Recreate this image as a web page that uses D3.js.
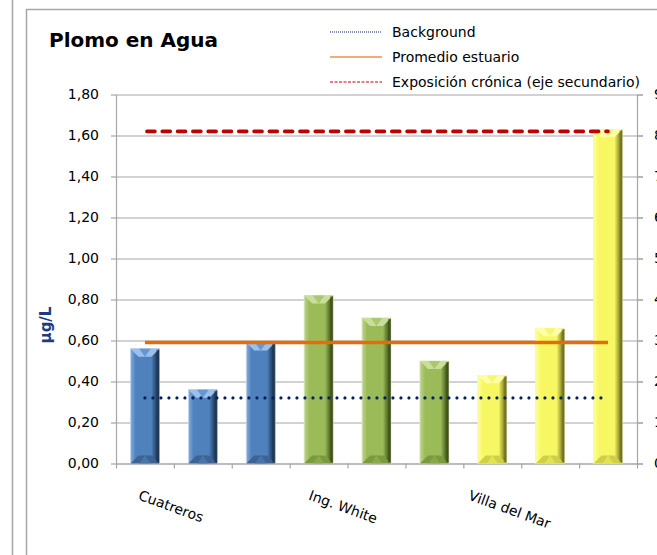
<!DOCTYPE html>
<html>
<head>
<meta charset="utf-8">
<script src="https://cdn.jsdelivr.net/npm/d3@7"></script>
<style>
  html, body { margin: 0; padding: 0; background: #fff; }
  svg { display: block; font-family: "DejaVu Sans", Verdana, sans-serif; }
</style>
</head>
<body>
<svg id="chart" width="657" height="555"></svg>
<script>
// Lead concentration in water by sampling station (µg/L)
const categories = ["", "Cuatreros", "", "", "Ing. White", "", "", "Villa del Mar", ""];
const leadValues = [0.56, 0.36, 0.59, 0.82, 0.71, 0.50, 0.43, 0.66, 1.63];
const siteGroup  = ["blue", "blue", "blue", "green", "green", "green", "yellow", "yellow", "yellow"];

// Reference levels
const backgroundLevel = 0.32;   // primary axis
const estuaryMean     = 0.59;   // primary axis
const chronicExposure = 8.1;    // secondary axis

const leftTicks  = [0, 0.2, 0.4, 0.6, 0.8, 1.0, 1.2, 1.4, 1.6, 1.8];
const rightTicks = [0, 1, 2, 3, 4, 5, 6, 7, 8, 9];

const legendItems = ["Background", "Promedio estuario", "Exposición crónica (eje secundario)"];

const svg = d3.select("#chart");
const plot = { left: 116, right: 637, top: 94.5, bottom: 463.5 };

const locale = d3.formatLocale({ decimal: ",", thousands: ".", grouping: [3], currency: ["", ""] });
const fmt2 = locale.format(".2f");

const x = d3.scaleBand()
  .domain(d3.range(categories.length))
  .range([plot.left, plot.right])
  .paddingInner(0.5)
  .paddingOuter(0.25);
const xEdges = d3.scaleLinear().domain([0, categories.length]).range([plot.left, plot.right]);
const y  = d3.scaleLinear().domain([0, 1.8]).range([plot.bottom, plot.top]);
const y2 = d3.scaleLinear().domain([0, 9]).range([plot.bottom, plot.top]);

const gridColor = "#a6a6a6";

// Frames
svg.append("line").attr("x1", 12.5).attr("x2", 12.5).attr("y1", 0).attr("y2", 555)
  .attr("stroke", gridColor).attr("stroke-width", 1.5);
svg.append("path").attr("d", "M26.5,555 V9.5 H657")
  .attr("fill", "none").attr("stroke", gridColor).attr("stroke-width", 1.5);

// Title
svg.append("text").attr("x", 49).attr("y", 47)
  .attr("font-size", 20).attr("font-weight", "bold").attr("fill", "#000")
  .text("Plomo en Agua");

// Gridlines
const grid = svg.append("g").attr("transform", `translate(${plot.left},0)`)
  .call(d3.axisRight(y).tickValues(leftTicks).tickSize(plot.right - plot.left + 6).tickFormat(""));
grid.select(".domain").remove();
grid.selectAll("line").attr("stroke", gridColor).attr("stroke-width", 1.2);

// Left axis
const axL = svg.append("g").attr("transform", `translate(${plot.left},0)`)
  .call(d3.axisLeft(y).tickValues(leftTicks).tickSize(5).tickSizeOuter(0).tickPadding(12).tickFormat(fmt2));
axL.select(".domain").attr("stroke", gridColor).attr("stroke-width", 1.2);
axL.selectAll("line").attr("stroke", gridColor).attr("stroke-width", 1.2);
axL.selectAll("text").attr("font-size", 14).attr("fill", "#000")
  .attr("font-family", "DejaVu Sans, sans-serif");

// Right (secondary) axis
const axR = svg.append("g").attr("transform", `translate(${plot.right},0)`)
  .call(d3.axisRight(y2).tickValues(rightTicks).tickSize(6).tickSizeOuter(0).tickPadding(11).tickFormat(d3.format("d")));
axR.select(".domain").attr("stroke", gridColor).attr("stroke-width", 1.2);
axR.selectAll("line").attr("stroke", gridColor).attr("stroke-width", 1.2);
axR.selectAll("text").attr("font-size", 14).attr("fill", "#000")
  .attr("font-family", "DejaVu Sans, sans-serif");

// Bottom axis (category boundary ticks)
const axB = svg.append("g").attr("transform", `translate(0,${plot.bottom})`)
  .call(d3.axisBottom(xEdges).tickValues(d3.range(categories.length + 1)).tickSize(5).tickSizeOuter(0).tickFormat(""));
axB.select(".domain").attr("stroke", gridColor).attr("stroke-width", 1.2);
axB.selectAll("line").attr("stroke", gridColor).attr("stroke-width", 1.2);

// Y axis title
svg.append("text")
  .attr("transform", `translate(51,325) rotate(-90)`)
  .attr("text-anchor", "middle")
  .attr("font-size", 15).attr("font-weight", "bold").attr("fill", "#1f3a80")
  .text("µg/L");

// Bar palettes (bevelled look)
const palettes = {
  blue:   { light: "#86ade0", base: "#4f81bd", dark: "#2d4f78", darker: "#1c3350", top: "#9cc0ec", topMid: "#5d8fcb", bottom: "#3d6394", bottomMid: "#4a78b0", edge: "#c9d6e8" },
  green:  { light: "#bdd48a", base: "#9bbb59", dark: "#5f7a2c", darker: "#3b4d18", top: "#c9de98", topMid: "#a5c466", bottom: "#7a9a3e", bottomMid: "#8dad4c", edge: "#dbe6c4" },
  yellow: { light: "#ffff9a", base: "#f7f763", dark: "#a8a838", darker: "#6b6b22", top: "#ffffa8", topMid: "#f4f46a", bottom: "#cfcf48", bottomMid: "#e6e659", edge: "#f1f1c8" }
};

const defs = svg.append("defs");
Object.entries(palettes).forEach(([name, p]) => {
  const g = defs.append("linearGradient").attr("id", "body-" + name)
    .attr("x1", "0").attr("x2", "1").attr("y1", "0").attr("y2", "0");
  g.append("stop").attr("offset", "0").attr("stop-color", p.light);
  g.append("stop").attr("offset", "0.18").attr("stop-color", p.base);
  g.append("stop").attr("offset", "0.72").attr("stop-color", p.base);
  g.append("stop").attr("offset", "0.86").attr("stop-color", p.dark);
  g.append("stop").attr("offset", "1").attr("stop-color", p.darker);
});

const bars = svg.append("g").selectAll("g.bar")
  .data(leadValues.map((v, i) => ({ v, i, p: palettes[siteGroup[i]], name: siteGroup[i] })))
  .join("g").attr("class", "bar");

bars.each(function(d) {
  const g = d3.select(this);
  const x0 = x(d.i), w = x.bandwidth();
  const yt = y(d.v), yb = y(0), h = yb - yt;
  const b = Math.min(8, h / 2);
  g.append("rect").attr("x", x0).attr("y", yt).attr("width", w).attr("height", h)
    .attr("fill", `url(#body-${d.name})`).attr("stroke", d.p.edge).attr("stroke-width", 0.8);
  // top bevel
  g.append("path").attr("d", `M${x0},${yt} H${x0 + w} L${x0 + w - b},${yt + b} H${x0 + b} Z`)
    .attr("fill", d.p.top);
  g.append("path").attr("d", `M${x0 + w * 0.3},${yt} H${x0 + w * 0.7} L${x0 + w / 2},${yt + b} Z`)
    .attr("fill", d.p.topMid).attr("opacity", 0.85);
  // bottom bevel
  g.append("path").attr("d", `M${x0},${yb} H${x0 + w} L${x0 + w - b},${yb - b} H${x0 + b} Z`)
    .attr("fill", d.p.bottom);
  g.append("path").attr("d", `M${x0 + w * 0.3},${yb} H${x0 + w * 0.7} L${x0 + w / 2},${yb - b} Z`)
    .attr("fill", d.p.bottomMid).attr("opacity", 0.8);
  // right dark edge
  g.append("rect").attr("x", x0 + w - 3).attr("y", yt + 1).attr("width", 3).attr("height", h - 2)
    .attr("fill", d.p.darker).attr("opacity", 0.55);
});

// Reference lines spanning first to last category centres
const xFirst = x(0) + x.bandwidth() / 2;
const xLast  = x(categories.length - 1) + x.bandwidth() / 2;

svg.append("line").attr("x1", xFirst).attr("x2", xLast)
  .attr("y1", y(backgroundLevel)).attr("y2", y(backgroundLevel))
  .attr("stroke", "#002060").attr("stroke-width", 3.2)
  .attr("stroke-linecap", "round").attr("stroke-dasharray", "0 8");

svg.append("line").attr("x1", xFirst).attr("x2", xLast)
  .attr("y1", y(estuaryMean)).attr("y2", y(estuaryMean))
  .attr("stroke", "#e46c0a").attr("stroke-width", 3.6);

svg.append("line").attr("x1", xFirst + 2).attr("x2", xLast)
  .attr("y1", y2(chronicExposure)).attr("y2", y2(chronicExposure))
  .attr("stroke", "#c00000").attr("stroke-width", 3.6)
  .attr("stroke-linecap", "round").attr("stroke-dasharray", "8 7.3");

// Category labels, rotated; rotated box right edge at the category centre
const labelG = svg.append("g");
categories.forEach((c, i) => {
  if (!c) return;
  const g = labelG.append("g");
  g.append("text").attr("text-anchor", "end").attr("transform", "rotate(20)")
    .attr("font-size", 14).attr("fill", "#000").text(c);
  const svgRect = svg.node().getBoundingClientRect();
  const r = g.node().getBoundingClientRect();
  const cx = x(i) + x.bandwidth() / 2;
  const dx = cx + 3 - (r.right - svgRect.left);
  const dy = 487 - (r.top - svgRect.top);
  g.attr("transform", `translate(${dx},${dy})`);
});

// Legend
const legend = svg.append("g").attr("transform", "translate(330,32)");
const legRows = legend.selectAll("g").data(legendItems).join("g")
  .attr("transform", (d, i) => `translate(0,${i * 25})`);
legRows.append("line").attr("x1", 0).attr("x2", 52).attr("y1", 0).attr("y2", 0)
  .attr("stroke", (d, i) => ["#002060", "#f0914a", "#c00000"][i])
  .attr("stroke-width", (d, i) => [1, 1.6, 1][i])
  .attr("stroke-dasharray", (d, i) => ["1 1", null, "3 1.5"][i]);
legRows.append("text").attr("x", 62).attr("y", 0).attr("dy", "0.35em")
  .attr("font-size", 14).attr("fill", "#000").text(d => d);
</script>
</body>
</html>
